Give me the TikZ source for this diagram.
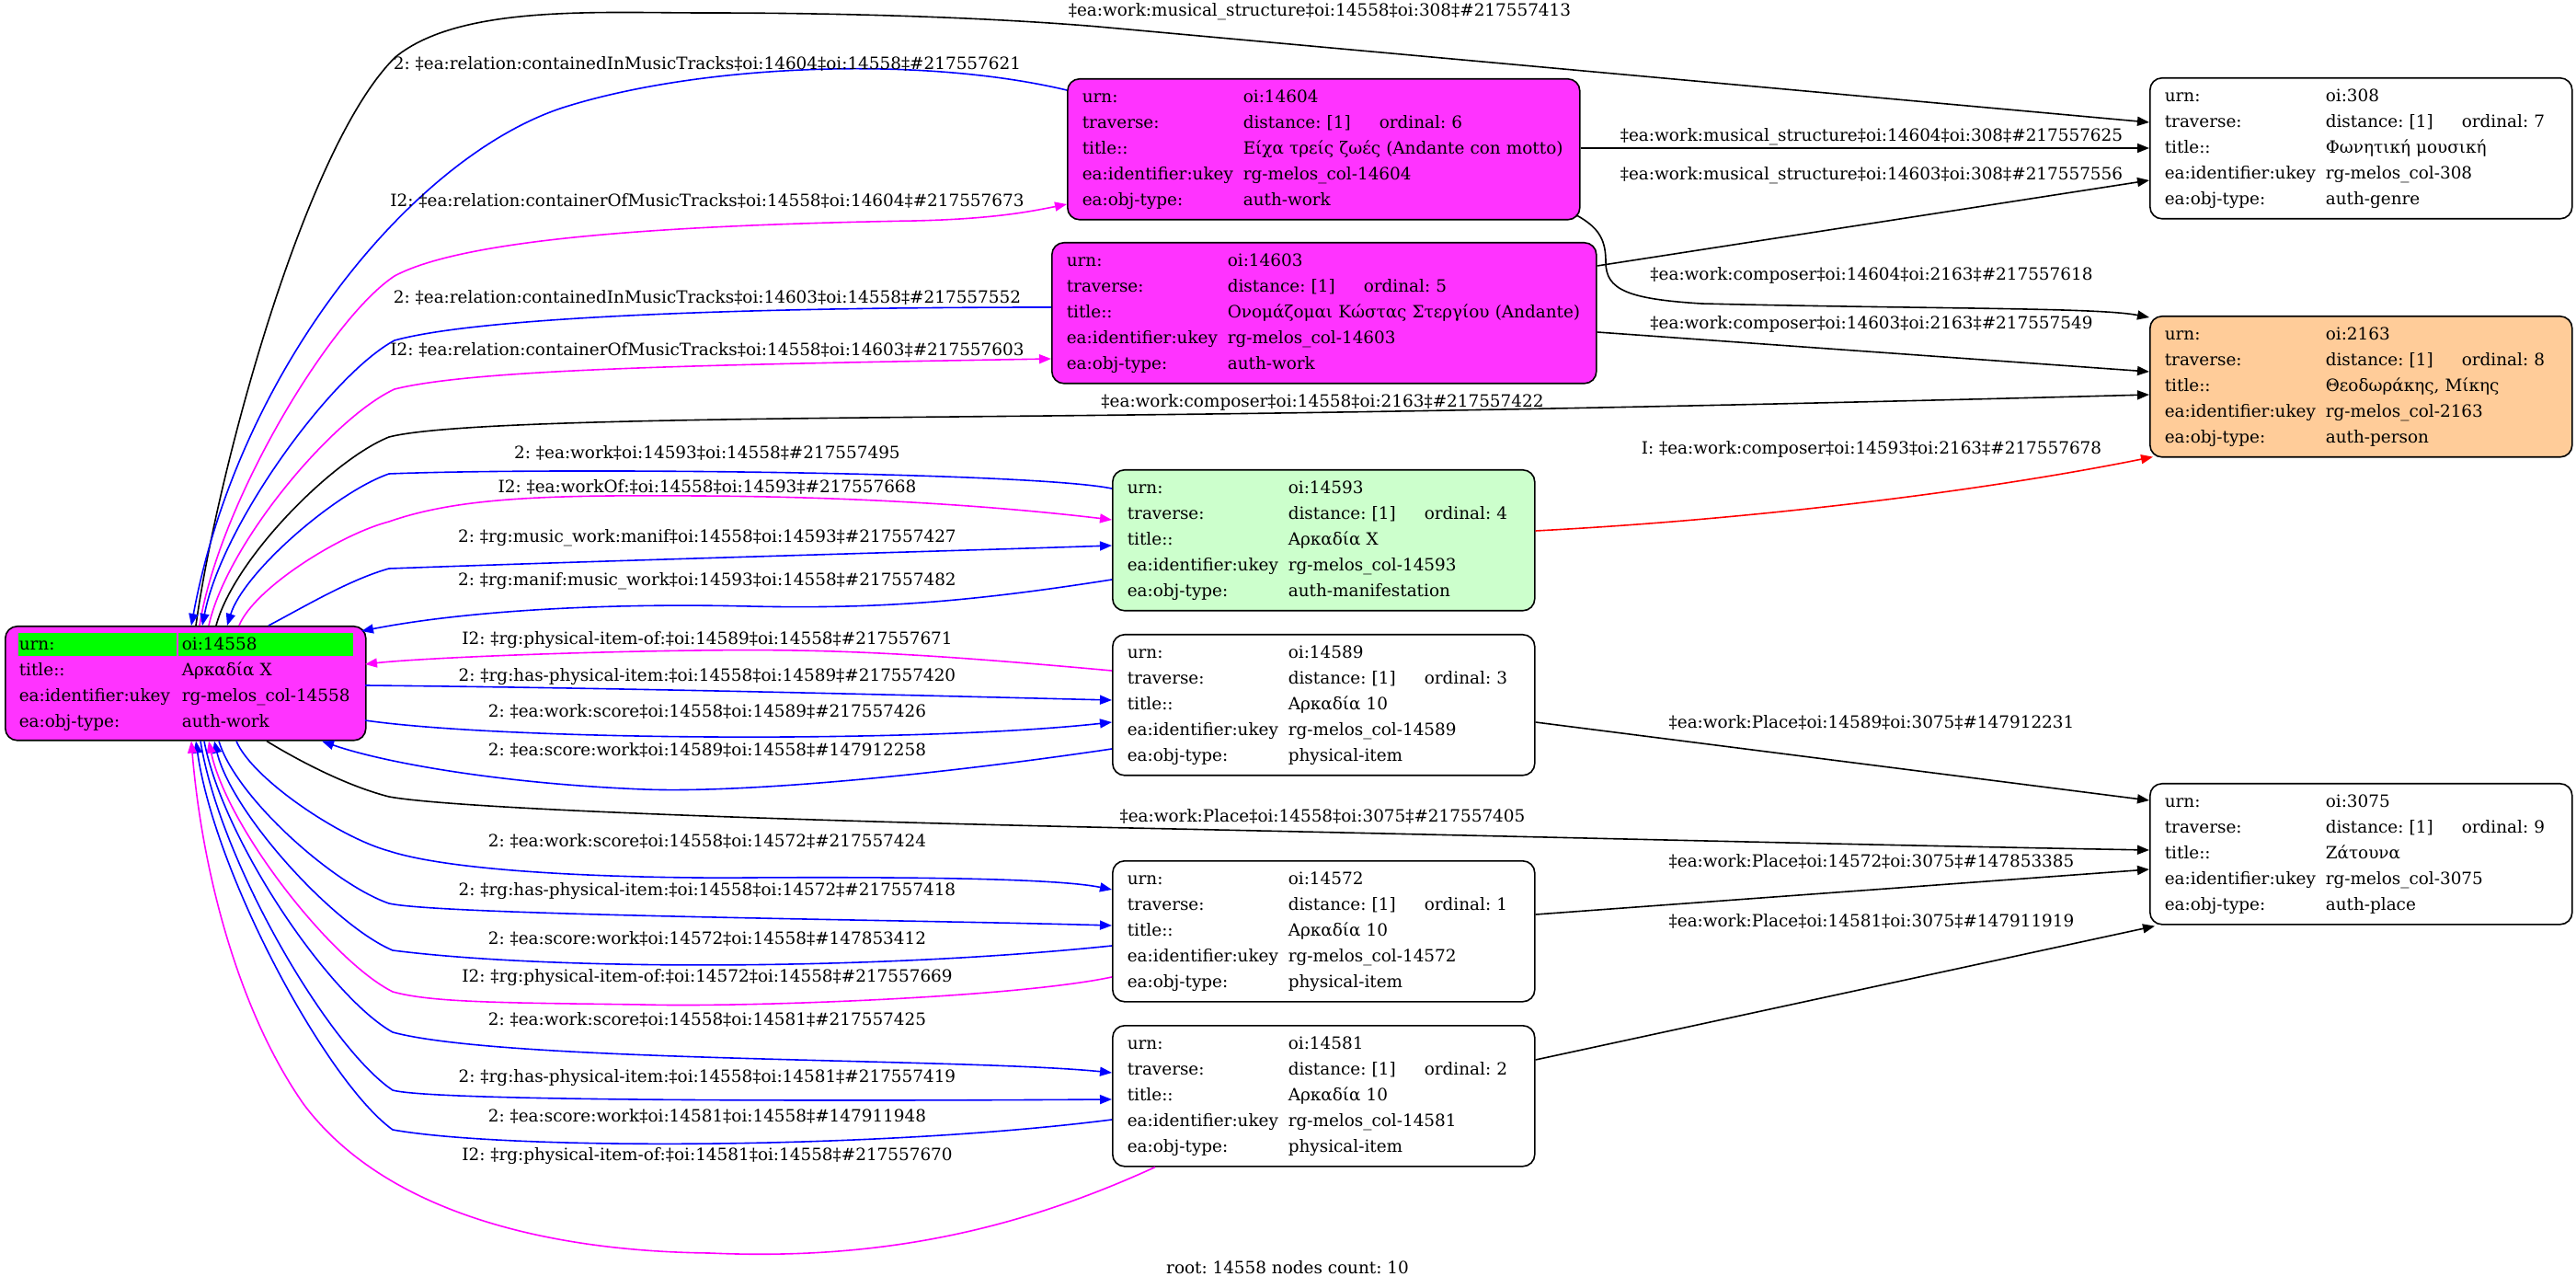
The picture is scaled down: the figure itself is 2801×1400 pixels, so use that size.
\documentclass[tikz,border=0pt]{standalone}
\usepackage{fontspec}
\setmainfont{DejaVu Serif}
\usetikzlibrary{arrows.meta,calc}
\frenchspacing

\definecolor{workfill}{RGB}{255,51,255}
\definecolor{manifill}{RGB}{204,255,204}
\definecolor{personfill}{RGB}{255,204,153}
\definecolor{urngreen}{RGB}{0,255,0}
\definecolor{edgemag}{RGB}{255,0,255}

\newcommand{\lbl}[1]{\makebox[87.5pt][l]{#1}}
\newcommand{\trv}[1]{\makebox[74pt][l]{distance: [1]}ordinal: #1}
\newcommand{\recbody}[4]{\begin{tabular}{@{}l@{}}
\lbl{urn:}oi:#1\\
\lbl{traverse:}\trv{#2}\\
\lbl{title::}#3\\
\lbl{ea:identifier:ukey}rg-melos\_col-#1\\
\lbl{ea:obj-type:}#4
\end{tabular}}
\newcommand{\gcell}[2]{{\setlength{\fboxsep}{0pt}\colorbox{urngreen}{\makebox[#1][l]{\rule[-3.2pt]{0pt}{12.5pt}#2}}}}

\tikzset{every picture/.style={line width=0.8pt}}
\tikzset{
  rec/.style={draw, rounded corners=6.5pt, anchor=north west, inner xsep=8pt, inner ysep=0pt, minimum height=76.5pt, align=left, text width=213.5pt},
  headed/.style={-{Triangle[length=6.5pt,width=5pt]}},
  blueedge/.style={draw=blue, headed},
  magedge/.style={draw=edgemag, headed},
  blackedge/.style={draw=black, headed},
  rededge/.style={draw=red, headed},
  elabel/.style={inner sep=0pt},
}

\begin{document}
\begin{tikzpicture}[x=0.5pt,y=0.5pt,yscale=-1,xscale=1,font=\fontsize{9.2pt}{14pt}\selectfont]
\useasboundingbox (0,0) rectangle (2801,1400);

%Shape: Box root
\node[rec, fill=workfill, inner xsep=7pt, text width=182pt, minimum height=62pt] (r) at (5,680) {\begin{tabular}{@{}l@{}}
\gcell{86pt}{\hspace{0.5pt}urn:}\hspace{1pt}\gcell{95pt}{\hspace{2pt}oi:14558}\\
\makebox[89pt][l]{\hspace{0.5pt}title::}Αρκαδία Χ\\
\makebox[89pt][l]{\hspace{0.5pt}ea:identifier:ukey}rg-melos\_col-14558\\
\makebox[89pt][l]{\hspace{0.5pt}ea:obj-type:}auth-work
\end{tabular}};
%Shape: Box works
\node[rec, fill=workfill, text width=262.5pt] (n14604) at (1160,85) {\recbody{14604}{6}{Είχα τρείς ζωές (Andante con motto)}{auth-work}};
\node[rec, fill=workfill, text width=280pt] (n14603) at (1143,263) {\recbody{14603}{5}{Ονομάζομαι Κώστας Στεργίου (Andante)}{auth-work}};
%Shape: Box manifestation and items
\node[rec, fill=manifill] (n14593) at (1209,510) {\recbody{14593}{4}{Αρκαδία Χ}{auth-manifestation}};
\node[rec] (n14589) at (1209,689) {\recbody{14589}{3}{Αρκαδία 10}{physical-item}};
\node[rec] (n14572) at (1209,935) {\recbody{14572}{1}{Αρκαδία 10}{physical-item}};
\node[rec] (n14581) at (1209,1114) {\recbody{14581}{2}{Αρκαδία 10}{physical-item}};
%Shape: Box right column
\node[rec] (n308) at (2337,84) {\recbody{308}{7}{Φωνητική μουσική}{auth-genre}};
\node[rec, fill=personfill] (n2163) at (2337,343) {\recbody{2163}{8}{Θεοδωράκης, Μίκης}{auth-person}};
\node[rec] (n3075) at (2337,851) {\recbody{3075}{9}{Ζάτουνα}{auth-place}};

%Curve Lines above root
\draw[blackedge] ($(r.north west)+(208,0)$) .. controls (235,520) and (330,160) .. (430,62) .. controls (500,5) and (650,14) .. (765,14) .. controls (950,14) and (1100,21) .. (1194,29) -- ($(n308.north west)+(0,49)$);
\draw[blueedge] ($(n14604.north west)+(0,13)$) .. controls (1000,60) and (760,70) .. (612,117) .. controls (450,170) and (260,400) .. ($(r.north west)+(203,0)$);
\draw[magedge] ($(r.north west)+(212,0)$) .. controls (238,547) and (359,346) .. (429,300) .. controls (500,262) and (700,245) .. (995,240) .. controls (1080,238) and (1120,230) .. ($(n14604.north west)+(0,137)$);
\draw[blueedge] ($(n14603.north west)+(0,71)$) .. controls (800,334) and (520,345) .. (429,370) .. controls (360,407) and (241,571) .. ($(r.north west)+(215,0)$);
\draw[magedge] ($(r.north west)+(222,0)$) .. controls (247,590) and (362,454) .. (429,423) .. controls (520,400) and (800,396) .. ($(n14603.north west)+(0,127)$);
\draw[blackedge] ($(r.north west)+(230,0)$) .. controls (254,608) and (361,500) .. (423,475) .. controls (500,455) and (900,455) .. (1230,451) .. controls (1600,447) and (2000,438) .. ($(n2163.north west)+(0,86)$);
\draw[blueedge] ($(n14593.north west)+(0,21)$) .. controls (1120,513) and (600,508) .. (423,515) .. controls (365,535) and (265,622) .. ($(r.north west)+(242,0)$);
\draw[magedge] ($(r.north west)+(255,0)$) .. controls (276,640) and (369,581) .. (423,567) .. controls (500,540) and (600,538) .. (759,539) .. controls (950,540) and (1100,552) .. ($(n14593.north west)+(0,55)$);
\draw[blueedge] ($(r.north west)+(287,0)$) .. controls (330,660) and (380,630) .. (423,618) .. controls (700,608) and (1000,600) .. ($(n14593.north west)+(0,83)$);
\draw[blueedge] ($(n14593.north west)+(0,120)$) .. controls (1050,655) and (950,662) .. (814,659) .. controls (650,655) and (500,665) .. ($(r.north west)+(388,6)$);

%Curve Lines right of root
\draw[magedge] ($(n14589.north west)+(0,40)$) .. controls (1000,710) and (900,705) .. (759,707) .. controls (600,709) and (450,716) .. ($(r.north west)+(392,42)$);
\draw[blueedge] ($(r.north west)+(392,65)$) .. controls (700,748) and (1000,756) .. ($(n14589.north west)+(0,72)$);
\draw[blueedge] ($(r.north west)+(392,103)$) .. controls (550,805) and (1000,808) .. ($(n14589.north west)+(0,96)$);
\draw[blueedge] ($(n14589.north west)+(0,125)$) .. controls (1000,845) and (800,862) .. (700,858) .. controls (550,852) and (420,830) .. ($(r.south west)+(345,0)$);

%Curve Lines below root
\draw[blackedge] ($(r.south west)+(285,0)$) .. controls (330,830) and (380,855) .. (423,866) .. controls (500,880) and (900,893) .. (1230,900) .. controls (1700,910) and (2000,918) .. ($(n3075.north west)+(0,73)$);
\draw[blueedge] ($(r.south west)+(252,0)$) .. controls (274,846) and (368,910) .. (423,925) .. controls (500,950) and (700,955) .. (814,954) .. controls (1000,953) and (1150,955) .. ($(n14572.north west)+(0,32)$);
\draw[blueedge] ($(r.south west)+(233,0)$) .. controls (256,866) and (362,961) .. (423,982) .. controls (480,995) and (1000,1000) .. ($(n14572.north west)+(0,71)$);
\draw[blueedge] ($(n14572.north west)+(0,93)$) .. controls (950,1055) and (600,1055) .. (427,1033) .. controls (363,1006) and (252,884) .. ($(r.south west)+(228,0)$);
\draw[magedge] ($(n14572.north west)+(0,127)$) .. controls (1100,1085) and (800,1095) .. (700,1092) .. controls (550,1090) and (470,1090) .. (427,1078) .. controls (361,1045) and (247,900) .. ($(r.south west)+(222,0)$);
\draw[blueedge] ($(r.south west)+(217,0)$) .. controls (243,915) and (359,1084) .. (427,1122) .. controls (550,1155) and (1050,1150) .. ($(n14581.north west)+(0,52)$);
\draw[blueedge] ($(r.south west)+(213,0)$) .. controls (239,937) and (358,1139) .. (427,1185) .. controls (470,1197) and (900,1197) .. ($(n14581.north west)+(0,81)$);
\draw[blueedge] ($(n14581.north west)+(0,103)$) .. controls (950,1250) and (550,1250) .. (427,1228) .. controls (356,1177) and (234,952) .. ($(r.south west)+(208,0)$);
\draw[magedge] ($(n14581.south west)+(47,0)$) .. controls (1100,1340) and (950,1370) .. (771,1362) .. controls (600,1360) and (420,1320) .. (330,1200) .. controls (260,1100) and (220,950) .. ($(r.south west)+(203,0)$);

%Straight Lines right column
\draw[blackedge] ($(n14604.north east)+(0,76)$) -- ($(n308.north west)+(0,77)$);
\draw[blackedge] ($(n14603.north east)+(0,26)$) -- ($(n308.north west)+(0,112)$);
\draw[blackedge] ($(n14604.south east)+(-5,-6)$) .. controls (1740,248) and (1746,262) .. (1746,285) .. controls (1746,315) and (1770,325) .. (1850,330) .. controls (2100,336) and (2280,334) .. ($(n2163.north west)+(0,2)$);
\draw[blackedge] ($(n14603.north east)+(0,98)$) -- ($(n2163.north west)+(0,61)$);
\draw[rededge] ($(n14593.north east)+(0,67)$) .. controls (1900,565) and (2150,535) .. ($(n2163.south west)+(4,-1)$);
\draw[blackedge] ($(n14589.north east)+(0,96)$) -- ($(n3075.north west)+(0,19)$);
\draw[blackedge] ($(n14572.north east)+(0,59)$) -- ($(n3075.north west)+(0,94)$);
\draw[blackedge] ($(n14581.north east)+(0,38)$) -- ($(n3075.south west)+(6,1)$);

% Text Node
\node[elabel] (lab1) at (1435,13) {‡ea:work:musical\_structure‡oi:14558‡oi:308‡\#217557413};
\node[elabel] (lab2) at (769,69) {2: ‡ea:relation:containedInMusicTracks‡oi:14604‡oi:14558‡\#217557621};
\node[elabel] (lab3) at (769,218) {I2: ‡ea:relation:containerOfMusicTracks‡oi:14558‡oi:14604‡\#217557673};
\node[elabel] (lab4) at (769,323) {2: ‡ea:relation:containedInMusicTracks‡oi:14603‡oi:14558‡\#217557552};
\node[elabel] (lab5) at (769,380) {I2: ‡ea:relation:containerOfMusicTracks‡oi:14558‡oi:14603‡\#217557603};
\node[elabel] (lab6) at (1438,437) {‡ea:work:composer‡oi:14558‡oi:2163‡\#217557422};
\node[elabel] (lab7) at (769,492) {2: ‡ea:work‡oi:14593‡oi:14558‡\#217557495};
\node[elabel] (lab8) at (769,529) {I2: ‡ea:workOf:‡oi:14558‡oi:14593‡\#217557668};
\node[elabel] (lab9) at (769,585) {2: ‡rg:music\_work:manif‡oi:14558‡oi:14593‡\#217557427};
\node[elabel] (lab10) at (769,632) {2: ‡rg:manif:music\_work‡oi:14593‡oi:14558‡\#217557482};
\node[elabel] (lab11) at (769,696) {I2: ‡rg:physical-item-of:‡oi:14589‡oi:14558‡\#217557671};
\node[elabel] (lab12) at (769,736) {2: ‡rg:has-physical-item:‡oi:14558‡oi:14589‡\#217557420};
\node[elabel] (lab13) at (769,773) {2: ‡ea:work:score‡oi:14558‡oi:14589‡\#217557426};
\node[elabel] (lab14) at (769,815) {2: ‡ea:score:work‡oi:14589‡oi:14558‡\#147912258};
\node[elabel] (lab15) at (1438,887) {‡ea:work:Place‡oi:14558‡oi:3075‡\#217557405};
\node[elabel] (lab16) at (769,914) {2: ‡ea:work:score‡oi:14558‡oi:14572‡\#217557424};
\node[elabel] (lab17) at (769,969) {2: ‡rg:has-physical-item:‡oi:14558‡oi:14572‡\#217557418};
\node[elabel] (lab18) at (769,1020) {2: ‡ea:score:work‡oi:14572‡oi:14558‡\#147853412};
\node[elabel] (lab19) at (769,1063) {I2: ‡rg:physical-item-of:‡oi:14572‡oi:14558‡\#217557669};
\node[elabel] (lab20) at (769,1108) {2: ‡ea:work:score‡oi:14558‡oi:14581‡\#217557425};
\node[elabel] (lab21) at (769,1172) {2: ‡rg:has-physical-item:‡oi:14558‡oi:14581‡\#217557419};
\node[elabel] (lab22) at (769,1213) {2: ‡ea:score:work‡oi:14581‡oi:14558‡\#147911948};
\node[elabel] (lab23) at (769,1257) {I2: ‡rg:physical-item-of:‡oi:14581‡oi:14558‡\#217557670};
\node[elabel] (lab24) at (2035,149) {‡ea:work:musical\_structure‡oi:14604‡oi:308‡\#217557625};
\node[elabel] (lab25) at (2035,191) {‡ea:work:musical\_structure‡oi:14603‡oi:308‡\#217557556};
\node[elabel] (lab26) at (2035,299) {‡ea:work:composer‡oi:14604‡oi:2163‡\#217557618};
\node[elabel] (lab27) at (2035,352) {‡ea:work:composer‡oi:14603‡oi:2163‡\#217557549};
\node[elabel] (lab28) at (2035,488) {I: ‡ea:work:composer‡oi:14593‡oi:2163‡\#217557678};
\node[elabel] (lab29) at (2035,785) {‡ea:work:Place‡oi:14589‡oi:3075‡\#147912231};
\node[elabel] (lab30) at (2035,936) {‡ea:work:Place‡oi:14572‡oi:3075‡\#147853385};
\node[elabel] (lab31) at (2035,1001) {‡ea:work:Place‡oi:14581‡oi:3075‡\#147911919};
\node[elabel] (footer) at (1400,1378) {root: 14558 nodes count: 10};

\end{tikzpicture}
\end{document}
